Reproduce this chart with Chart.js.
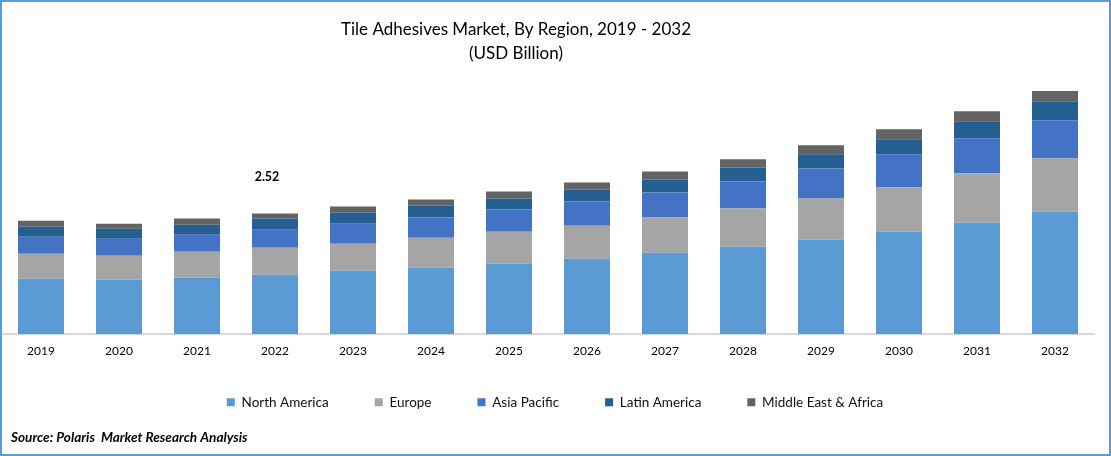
<!DOCTYPE html>
<html><head><meta charset="utf-8">
<script src="https://cdn.jsdelivr.net/npm/chart.js@4"></script>
<style>
html,body{margin:0;padding:0;background:#fff}
#wrap{position:relative;width:1111px;height:456px;overflow:hidden}
#frame{position:absolute;left:0;top:0;width:1111px;height:456px;box-sizing:border-box;border:2px solid #5B9BD5;pointer-events:none}
canvas{position:absolute;left:0;top:0}
</style></head><body>
<div id="wrap"><canvas id="c" width="1111" height="456"></canvas><div id="frame"></div></div>
<script>
const years=["2019","2020","2021","2022","2023","2024","2025","2026","2027","2028","2029","2030","2031","2032"];
const northAmerica=[1.155,1.134,1.176,1.239,1.323,1.386,1.47,1.575,1.701,1.827,1.974,2.142,2.331,2.562];
const europe=[0.525,0.504,0.546,0.567,0.567,0.63,0.672,0.693,0.735,0.798,0.861,0.924,1.029,1.113];
const asiaPacific=[0.357,0.357,0.357,0.378,0.42,0.42,0.462,0.504,0.525,0.567,0.63,0.693,0.735,0.798];
const latinAmerica=[0.21,0.21,0.21,0.231,0.231,0.252,0.231,0.252,0.273,0.294,0.294,0.315,0.357,0.399];
const middleEastAfrica=[0.126,0.105,0.126,0.105,0.126,0.126,0.147,0.147,0.168,0.168,0.189,0.21,0.21,0.21];
const seriesNames=["North America","Europe","Asia Pacific","Latin America","Middle East & Africa"];
const colors=["#5B9BD5","#A5A5A5","#4472C4","#255E91","#636363"];
const seriesValues=[northAmerica,europe,asiaPacific,latinAmerica,middleEastAfrica];
const titleLines=["Tile Adhesives Market, By Region, 2019 - 2032","(USD Billion)"];
const sourceText="Source: Polaris  Market Research Analysis";
const annotation="2.52";
const FONT='Lato,"Open Sans",sans-serif';
const overlay={id:'overlay',
 afterLayout(ch){const l=ch.legend;l.top-=19;l.bottom-=19;l.left+=7;l.right+=7;},
 afterDraw(ch){
  const g=ch.ctx;g.save();g.fillStyle='#000';g.textBaseline='middle';g.textAlign='center';
  g.font='17px '+FONT;
  g.fillText(titleLines[0],516,30);g.fillText(titleLines[1],516,54);
  g.font='bold 12.5px '+FONT;
  g.fillText(annotation,ch.scales.x.getPixelForValue(3)-8,177);
  g.textAlign='left';g.font='italic bold 13.6px '+FONT;
  g.fillText(sourceText,11,438);
  g.restore();
}};
new Chart(document.getElementById('c'),{type:'bar',
 data:{labels:years,datasets:seriesNames.map((n,i)=>({label:n,data:seriesValues[i],backgroundColor:colors[i],borderWidth:0,categoryPercentage:1,barPercentage:0.59}))},
 plugins:[overlay],
 options:{responsive:false,animation:false,devicePixelRatio:1,
  layout:{padding:{left:2,right:17,top:71,bottom:18}},
  plugins:{tooltip:{enabled:false},title:{display:false},
   legend:{position:'bottom',align:'center',labels:{boxWidth:8,boxHeight:8,padding:46,color:'#111',font:{family:FONT,size:13.5}}}},
  scales:{
   x:{stacked:true,grid:{display:false,drawTicks:false},border:{color:'#D9D9D9',width:2},
      ticks:{color:'#000',padding:10,maxRotation:0,autoSkip:false,font:{family:FONT,size:12}}},
   y:{stacked:true,display:false,min:0,max:5.502}}}});
</script></body></html>
